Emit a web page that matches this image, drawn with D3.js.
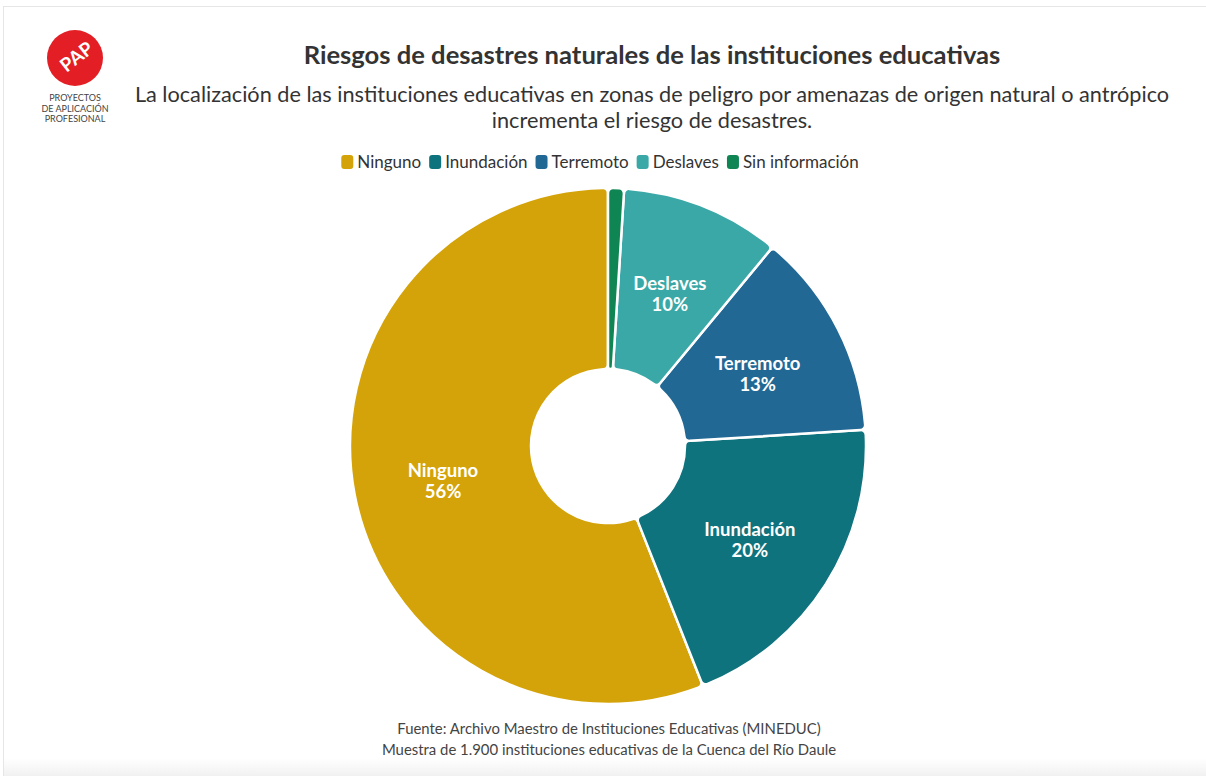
<!DOCTYPE html>
<html><head><meta charset="utf-8">
<script src="https://cdn.jsdelivr.net/npm/d3@7/dist/d3.min.js"></script>
<style>
html,body{margin:0;padding:0;background:#fff;}
svg{display:block;}
text{font-family:"Lato","Noto Sans",sans-serif;}
</style></head>
<body>
<script>
const categories = ["Ninguno","Inundación","Terremoto","Deslaves","Sin información"];
const values = [56, 20, 13, 10, 1];
const labels = ["56%","20%","13%","10%",""];
const colors = ["#D4A30A","#0F737E","#226894","#3AA8A7","#0E8553"];
const titleText = "Riesgos de desastres naturales de las instituciones educativas";
const subtitleLines = ["La localización de las instituciones educativas en zonas de peligro por amenazas de origen natural o antrópico","incrementa el riesgo de desastres."];
const sourceLines = ["Fuente: Archivo Maestro de Instituciones Educativas (MINEDUC)","Muestra de 1.900 instituciones educativas de la Cuenca del Río Daule"];
const logoLines = ["PROYECTOS","DE APLICACIÓN","PROFESIONAL"];

const W = 1206, H = 776;
const svg = d3.select("body").append("svg").attr("width", W).attr("height", H);

// frame
svg.append("rect").attr("x",3.5).attr("y",6.5).attr("width",W+10).attr("height",H+10)
  .attr("fill","none").attr("stroke","#e6e6e6").attr("stroke-width",1);
const grad = svg.append("defs").append("linearGradient").attr("id","fade").attr("x1",0).attr("x2",0).attr("y1",0).attr("y2",1);
grad.append("stop").attr("offset","0%").attr("stop-color","#fff");
grad.append("stop").attr("offset","100%").attr("stop-color","#f1f1f1");
svg.append("rect").attr("x",4).attr("y",758).attr("width",W).attr("height",18).attr("fill","url(#fade)");

// logo
const logo = svg.append("g").attr("transform","translate(75,58)");
logo.append("circle").attr("r",28).attr("fill","#E31E24");
logo.append("text").attr("transform","rotate(-38)").attr("text-anchor","middle").attr("dy","0.35em")
  .attr("font-size",19).attr("font-weight",700).attr("fill","#fff").attr("x",2).text("PAP");
logoLines.forEach((t,i)=>{
  svg.append("text").attr("x",75).attr("y",101+i*10.5).attr("text-anchor","middle")
    .attr("font-size",9).attr("fill","#444").text(t);
});

// titles
svg.append("text").attr("x",652).attr("y",64).attr("text-anchor","middle")
  .attr("font-size",25.6).attr("font-weight",700).attr("fill","#333").text(titleText);
subtitleLines.forEach((t,i)=>{
  svg.append("text").attr("x",652).attr("y",102+i*26).attr("text-anchor","middle")
    .attr("font-size",21.7).attr("fill","#333").text(t);
});

// legend
const legend = svg.append("g").attr("transform","translate(340,155)");
let lx = 0;
categories.forEach((c,i)=>{
  const g = legend.append("g").attr("transform",`translate(${lx},0)`);
  g.append("rect").attr("width",12).attr("height",14).attr("rx",3).attr("fill",colors[i]);
  const t = g.append("text").attr("x",16).attr("y",12.5).attr("font-size",17).attr("fill","#333").text(c);
  lx += 16 + t.node().getComputedTextLength() + 8;
});
const lw = lx - 8;
legend.attr("transform",`translate(${600 - lw/2},155)`);

// pie
const cx = 608, cy = 446, rOuter = 258, rInner = 77;
const pie = d3.pie().sort(null).startAngle(0).endAngle(-2*Math.PI).value(d=>d);
const arcs = pie(values);
const arc = d3.arc().innerRadius(rInner).outerRadius(rOuter).cornerRadius(5);
const labelArc = d3.arc().innerRadius(168).outerRadius(168);
const pg = svg.append("g").attr("transform",`translate(${cx},${cy})`);
pg.selectAll("path").data(arcs).join("path")
  .attr("d",arc).attr("fill",(d,i)=>colors[i]).attr("stroke","#fff").attr("stroke-width",2.5).attr("stroke-linejoin","round");
arcs.forEach((d,i)=>{
  if(!labels[i]) return;
  const [x,y] = labelArc.centroid(d);
  const t = pg.append("text").attr("text-anchor","middle").attr("fill","#fff").attr("font-weight",700).attr("font-size",18.5);
  t.append("tspan").attr("x",x).attr("y",y).text(categories[i]);
  t.append("tspan").attr("x",x).attr("y",y+21).text(labels[i]);
});

// source
sourceLines.forEach((t,i)=>{
  svg.append("text").attr("x",609).attr("y",734+i*21).attr("text-anchor","middle")
    .attr("font-size",14.9).attr("fill","#444").text(t);
});
</script>
</body></html>
